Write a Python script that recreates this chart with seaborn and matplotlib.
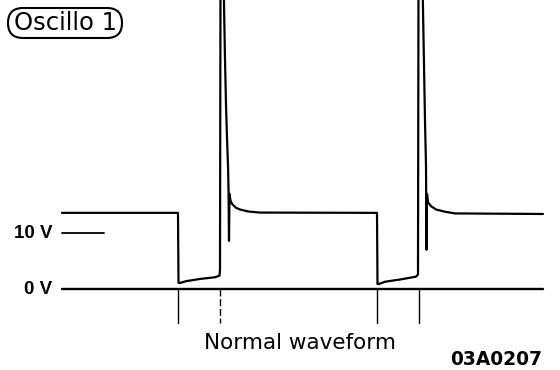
import matplotlib
matplotlib.use("Agg")
import matplotlib.pyplot as plt
from matplotlib.patches import FancyBboxPatch
from matplotlib.transforms import IdentityTransform
import seaborn as sns
import pandas as pd

# ---- data (time in ms, voltage in V) ----
trace_time = [0.0, 11.6, 11.65, 11.8, 12.4, 13.8, 15.3, 15.75, 15.8, 15.85, 16.15,
              16.2, 16.3, 16.4, 16.5, 16.6, 16.65, 16.7, 16.75, 16.85, 17.0, 17.4,
              17.8, 18.6, 19.8, 31.5, 31.55, 31.7, 32.3, 33.8, 35.4, 35.6, 35.65,
              36.05, 36.1, 36.2, 36.3, 36.4, 36.45, 36.5, 36.6, 36.9, 37.4, 38.3,
              39.3, 48.1]
trace_volts = [13.6, 13.6, 1.1, 1.07, 1.4, 1.8, 2.1, 2.4, 3.5, 55.0, 55.0,
               51.0, 41.0, 33.0, 27.0, 22.0, 18.0, 8.6, 17.0, 15.8, 15.2, 14.5,
               14.2, 13.85, 13.65, 13.6, 0.9, 0.9, 1.3, 1.7, 2.2, 2.6, 55.0,
               55.0, 50.0, 40.0, 30.0, 22.0, 7.0, 17.0, 15.5, 14.8, 14.2, 13.8,
               13.5, 13.4]
marker_times = [11.6, 15.8, 31.5, 35.7]
level_labels = ["10 V", "0 V"]
level_values = [10, 0]
title_text = "Oscillo 1"
caption_text = "Normal waveform"
code_text = "03A0207"

sns.set_style("white")
plt.rcParams["font.family"] = ["DejaVu Sans"]

fig = plt.figure(figsize=(5.6, 3.7), dpi=100)
ax = fig.add_axes([0, 0, 1, 1])
ax.set_xlim(-6.2, 49.8)
ax.set_ylim(-14.46, 51.61)
ax.axis("off")

df = pd.DataFrame({"t": trace_time, "v": trace_volts})
sns.lineplot(data=df, x="t", y="v", sort=False, estimator=None,
             color="black", lw=1.6, ax=ax)

# zero line and 10 V reference tick
ax.plot([0, 48.1], [0, 0], color="black", lw=1.7)
ax.plot([0, 4.2], [10, 10], color="black", lw=1.3)

# timing markers below the zero line
for i, t in enumerate(marker_times):
    ls = (0, (5, 2)) if i == 1 else "-"
    ax.plot([t, t], [0, -6.1], color="black", lw=1.0, ls=ls)

# level labels
for lab, val in zip(level_labels, level_values):
    ax.text(-1.0, val, lab, ha="right", va="center", fontsize=13.5,
            family=["Liberation Sans", "DejaVu Sans"],
            fontweight="bold", color="black")

# title in a rounded (stadium) box
box = FancyBboxPatch((8, 370 - 38), 114, 30,
                     boxstyle="round,pad=0,rounding_size=15",
                     fc="white", ec="black", lw=1.5, zorder=4)
ax.add_patch(box)
box.set_transform(IdentityTransform())
box.set_clip_on(False)
ax.text(65 / 560, 1 - 23 / 370, title_text, transform=ax.transAxes,
        ha="center", va="center", fontsize=17.5, color="black", zorder=5)

ax.text(300 / 560, 1 - 343 / 370, caption_text, transform=ax.transAxes,
        ha="center", va="center", fontsize=15.5, color="black")
ax.text(542 / 560, 1 - 365 / 370, code_text, transform=ax.transAxes,
        ha="right", va="baseline", fontsize=13.4, fontweight="bold",
        color="black")

fig.savefig("out.png", dpi=100)
